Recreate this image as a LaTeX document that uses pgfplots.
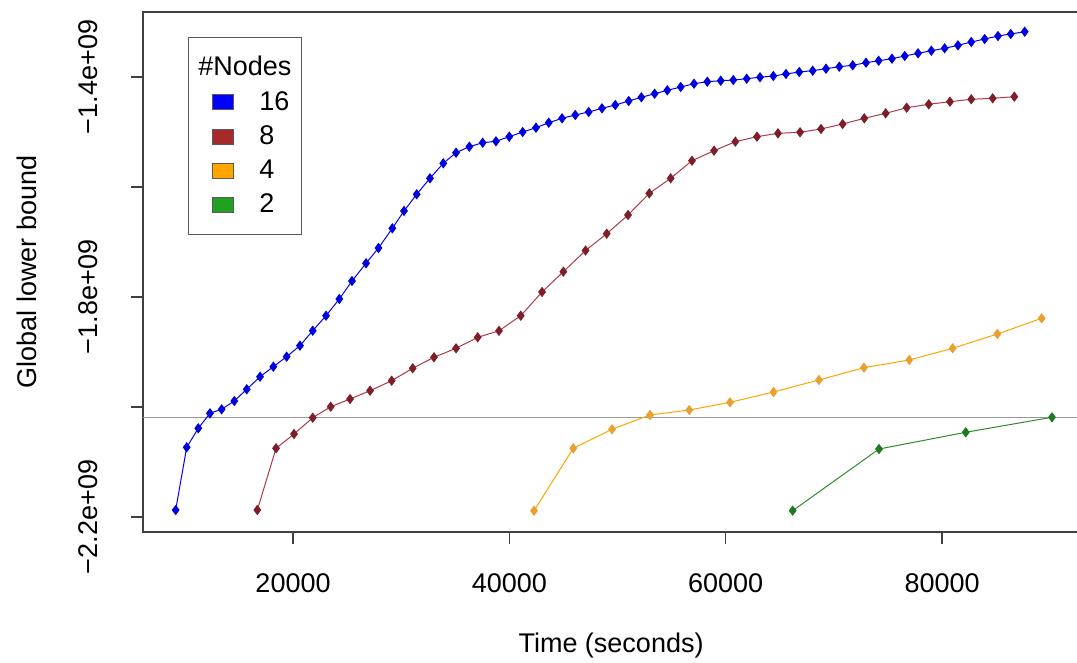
\documentclass[border=0pt]{standalone}
\usepackage{fontspec}
\setmainfont{Liberation Sans}
\usepackage{pgfplots}
\pgfplotsset{compat=1.18}
\newcommand\fs{\fontsize{13.5}{16}\selectfont}
\definecolor{cblue}{HTML}{0000FF}
\definecolor{cbluem}{HTML}{0000DD}
\definecolor{cred}{HTML}{B03848}
\definecolor{credm}{HTML}{7D1E28}
\definecolor{credl}{HTML}{A52A2A}
\definecolor{corange}{HTML}{FFA500}
\definecolor{corangem}{HTML}{E8A030}
\definecolor{cgreen}{HTML}{2E8B2E}
\definecolor{cgreenm}{HTML}{1E7A1E}
\definecolor{cgreenl}{HTML}{22A022}
\begin{document}
\begin{tikzpicture}
\begin{axis}[
  scale only axis,
  width=472pt, height=260pt,
  xmin=6129, xmax=93400,
  ymin=-2.2273e9, ymax=-1.2818e9,
  axis line style={draw=black!75, line width=0.6pt},
  tick style={draw=black!75, line width=0.6pt},
  tick align=outside,
  major tick length=6pt,
  xtick={20000,40000,60000,80000},
  xticklabels={20000,40000,60000,80000},
  ytick={-2.2e9,-2.0e9,-1.8e9,-1.6e9,-1.4e9},
  yticklabels={−2.2e+09,,−1.8e+09,,−1.4e+09},
  scaled x ticks=false, scaled y ticks=false,
  xtick pos=bottom, ytick pos=left,
  every tick label/.append style={font=\fs},
  xticklabel style={anchor=north, inner sep=0pt},
  yticklabel style={rotate=90, anchor=south, inner sep=0pt},
  xticklabel shift=14.5pt,
  yticklabel shift=16.5pt,
  xlabel={Time (seconds)},
  ylabel={Global lower bound},
  label style={font=\fs},
  xlabel style={at={(axis description cs:0.4958,-0.2173)}, anchor=center},
  ylabel style={at={(axis description cs:-0.1229,0.5)}, anchor=center},
  legend style={at={(axis description cs:0.0477,0.952)}, anchor=north west,
    draw=black!65, fill=white, font=\fs, inner xsep=3pt, inner ysep=7.5pt,
    row sep=2.2pt},
  legend cell align=left,
]
\addlegendimage{empty legend}
\addlegendentry{\hspace*{-30.5pt}\#Nodes\rule[-4pt]{0pt}{4pt}}

\addplot[gray!80, line width=0.6pt, forget plot] coordinates {(6129,-2.0185e9) (93400,-2.0185e9)};

\addplot[cblue, line width=0.5pt, mark=diamond*, mark size=2.2pt,
  mark options={fill=cbluem, draw=cbluem},
  legend image code/.code={\path (0pt,0pt) (30pt,0pt); \filldraw[fill=cblue, draw=black!65, line width=0.5pt] (9pt,-3.75pt) rectangle (19.5pt,3.75pt);}]
coordinates {
(9150,-2.1873e9) (10170,-2.0733e9) (11240,-2.0387e9) (12320,-2.0115e9)
(13400,-2.0042e9) (14570,-1.9891e9) (15720,-1.9678e9) (16950,-1.9449e9)
(18180,-1.9267e9) (19410,-1.9085e9) (20640,-1.8885e9) (21820,-1.8613e9)
(23050,-1.8340e9) (24280,-1.8036e9) (25450,-1.7709e9) (26750,-1.7387e9)
(27900,-1.7109e9) (29180,-1.6751e9) (30260,-1.6436e9) (31430,-1.6133e9)
(32660,-1.5842e9) (33890,-1.5569e9) (35070,-1.5376e9) (36300,-1.5267e9)
(37530,-1.5195e9) (38760,-1.5169e9) (39990,-1.5085e9) (41230,-1.5000e9)
(42460,-1.4922e9) (43640,-1.4831e9) (44870,-1.4751e9) (46090,-1.4691e9)
(47330,-1.4636e9) (48560,-1.4569e9) (49790,-1.4509e9) (51030,-1.4436e9)
(52200,-1.4369e9) (53430,-1.4304e9) (54600,-1.4242e9) (55840,-1.4182e9)
(57070,-1.4122e9) (58300,-1.4085e9) (59540,-1.4067e9) (60700,-1.4055e9)
(61940,-1.4031e9) (63170,-1.4004e9) (64400,-1.3982e9) (65570,-1.3945e9)
(66800,-1.3909e9) (68040,-1.3885e9) (69270,-1.3849e9) (70500,-1.3813e9)
(71740,-1.3787e9) (72970,-1.3740e9) (74140,-1.3704e9) (75370,-1.3667e9)
(76550,-1.3618e9) (77780,-1.3569e9) (79010,-1.3522e9) (80240,-1.3478e9)
(81470,-1.3424e9) (82700,-1.3364e9) (83940,-1.3309e9) (85170,-1.3255e9)
(86350,-1.3218e9) (87640,-1.3176e9)
};
\addlegendentry{16}

\addplot[cred, line width=0.5pt, mark=diamond*, mark size=2.2pt,
  mark options={fill=credm, draw=credm},
  legend image code/.code={\path (0pt,0pt) (30pt,0pt); \filldraw[fill=credl, draw=black!65, line width=0.5pt] (9pt,-3.75pt) rectangle (19.5pt,3.75pt);}]
coordinates {
(16700,-2.1873e9) (18430,-2.0751e9) (20090,-2.0491e9) (21820,-2.0195e9)
(23480,-1.9995e9) (25270,-1.9855e9) (27120,-1.9704e9) (29120,-1.9522e9)
(31060,-1.9296e9) (33030,-1.9096e9) (35070,-1.8933e9) (37070,-1.8733e9)
(39040,-1.8615e9) (41050,-1.8340e9) (43020,-1.7909e9) (44990,-1.7540e9)
(47040,-1.7155e9) (49000,-1.6849e9) (50970,-1.6509e9) (52940,-1.6115e9)
(54910,-1.5842e9) (56880,-1.5522e9) (58920,-1.5340e9) (60890,-1.5176e9)
(62890,-1.5085e9) (64830,-1.5024e9) (66870,-1.5005e9) (68810,-1.4945e9)
(70810,-1.4855e9) (72810,-1.4751e9) (74790,-1.4660e9) (76730,-1.4558e9)
(78770,-1.4496e9) (80730,-1.4449e9) (82700,-1.4405e9) (84680,-1.4387e9)
(86680,-1.4358e9)
};
\addlegendentry{8}

\addplot[corange, line width=0.5pt, mark=diamond*, mark size=2.2pt,
  mark options={fill=corangem, draw=corangem},
  legend image code/.code={\path (0pt,0pt) (30pt,0pt); \filldraw[fill=corange, draw=black!65, line width=0.5pt] (9pt,-3.75pt) rectangle (19.5pt,3.75pt);}]
coordinates {
(42280,-2.1885e9) (45910,-2.0751e9) (49490,-2.0405e9) (53000,-2.0145e9)
(56630,-2.0055e9) (60400,-1.9915e9) (64420,-1.9727e9) (68620,-1.9509e9)
(72780,-1.9285e9) (76970,-1.9145e9) (80980,-1.8933e9) (85110,-1.8673e9)
(89210,-1.8387e9)
};
\addlegendentry{4}

\addplot[cgreen, line width=0.5pt, mark=diamond*, mark size=2.2pt,
  mark options={fill=cgreenm, draw=cgreenm},
  legend image code/.code={\path (0pt,0pt) (30pt,0pt); \filldraw[fill=cgreenl, draw=black!65, line width=0.5pt] (9pt,-3.75pt) rectangle (19.5pt,3.75pt);}]
coordinates {
(66190,-2.1885e9) (74170,-2.0764e9) (82190,-2.0460e9) (90160,-2.0187e9)
};
\addlegendentry{2}
\end{axis}
\pgfresetboundingbox
\path[use as bounding box] ([shift={(-71.5pt,-65pt)}]current axis.south west) rectangle ([shift={(-5pt,6pt)}]current axis.north east);
\end{tikzpicture}
\end{document}
